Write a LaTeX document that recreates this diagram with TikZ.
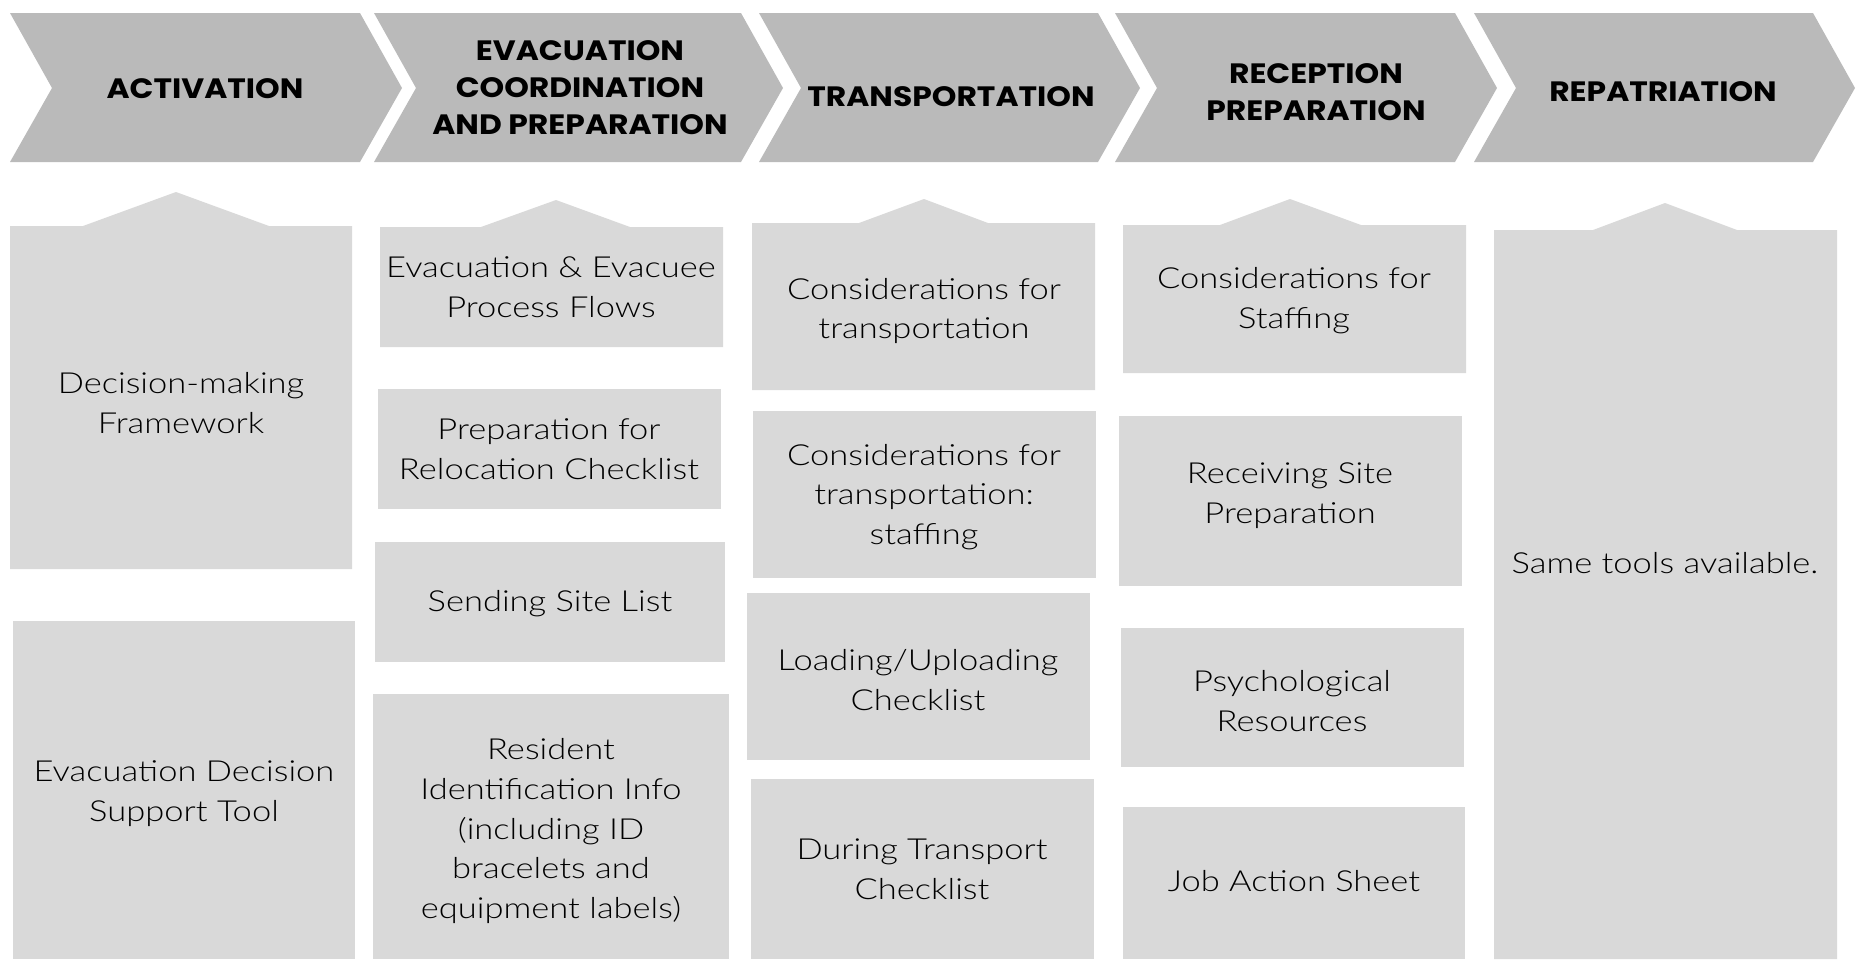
\documentclass[tikz,border=0pt]{standalone}
\usepackage{fontspec}
\setmainfont{Lato Light}[FakeStretch=1.19]
\newfontfamily\headfont{Poppins}[FakeStretch=1.12]
\usepackage{xcolor}
\definecolor{phasegray}{HTML}{BABABA}
\definecolor{toolgray}{HTML}{D9D9D9}

\begin{document}
\begin{tikzpicture}[x=0.5pt, y=-0.5pt]

	\tikzstyle{phase}=[fill=phasegray]
	\tikzstyle{phasetext}=[align=center, text=black, font=\headfont\bfseries\fontsize{14}{18.5}\selectfont]
	\tikzstyle{tool}=[fill=toolgray]
	\tikzstyle{tooltext}=[align=center, text=black, font=\fontsize{14.5}{19.9}\selectfont]

	\useasboundingbox (0,0) rectangle (1858,959);

	% phase chevrons
	\foreach \l/\r in {10/360, 374/741, 759/1098, 1115/1455, 1474/1813}
		\fill[phase] (\l,13) -- (\r,13) -- (\r+42,88) -- (\r,162) -- (\l,162) -- (\l+42,88) -- cycle;

	\node[phasetext] (activation) at (205,89) {ACTIVATION};
	\node[phasetext] (coordination) at (580,88) {EVACUATION\\COORDINATION\\AND PREPARATION};
	\node[phasetext] (transport) at (951,97) {TRANSPORTATION};
	\node[phasetext] (reception) at (1316,92) {RECEPTION\\PREPARATION};
	\node[phasetext] (repatriation) at (1663,92) {REPATRIATION};

	% first box of each column, with a peak
	\fill[tool] (10,226) -- (83,226) -- (176,192) -- (269,226) -- (352,226) -- (352,569) -- (10,569) -- cycle;
	\fill[tool] (380,227) -- (481,227) -- (556,200) -- (630,227) -- (723,227) -- (723,347) -- (380,347) -- cycle;
	\fill[tool] (752,223) -- (859,223) -- (924,199) -- (988,223) -- (1095,223) -- (1095,390) -- (752,390) -- cycle;
	\fill[tool] (1123,225) -- (1220,225) -- (1290,199) -- (1361,225) -- (1466,225) -- (1466,373) -- (1123,373) -- cycle;
	\fill[tool] (1494,230) -- (1593,230) -- (1665,203) -- (1737,230) -- (1837,230) -- (1837,959) -- (1494,959) -- cycle;

	% other boxes
	\fill[tool] (13,621) rectangle (355,959);
	\fill[tool] (378,389) rectangle (721,509);
	\fill[tool] (375,542) rectangle (725,662);
	\fill[tool] (373,694) rectangle (729,959);
	\fill[tool] (753,411) rectangle (1096,578);
	\fill[tool] (747,593) rectangle (1090,760);
	\fill[tool] (751,779) rectangle (1094,959);
	\fill[tool] (1119,416) rectangle (1462,586);
	\fill[tool] (1121,628) rectangle (1464,767);
	\fill[tool] (1123,807) rectangle (1465,959);

	% tools
	\node[tooltext] (framework) at (181,403) {Decision-making\\Framework};
	\node[tooltext] (edst) at (184,794) {Evacuation Decision\\Support Tool};
	\node[tooltext] (flows) at (551,287) {Evacuation \& Evacuee\\Process Flows};
	\node[tooltext] (relocation) at (549,449) {Preparation for\\Relocation Checklist};
	\node[tooltext] (sending) at (550,604) {Sending Site List};
	\node[tooltext] (resident) at (551,831) {Resident\\Identification Info\\(including ID\\bracelets and\\equipment labels)};
	\node[tooltext] (considtrans) at (924,311) {Considerations for\\transportation};
	\node[tooltext] (transstaff) at (924,497) {Considerations for\\transportation:\\staffing};
	\node[tooltext] (loading) at (918,680) {Loading/Uploading\\Checklist};
	\node[tooltext] (during) at (922,869) {During Transport\\Checklist};
	\node[tooltext] (staffing) at (1294,301) {Considerations for\\Staffing};
	\node[tooltext] (receiving) at (1290,496) {Receiving Site\\Preparation};
	\node[tooltext] (psych) at (1292,701) {Psychological\\Resources};
	\node[tooltext] (jobaction) at (1294,881) {Job Action Sheet};
	\node[tooltext] (sametools) at (1665,563) {Same tools available.};

\end{tikzpicture}
\end{document}
